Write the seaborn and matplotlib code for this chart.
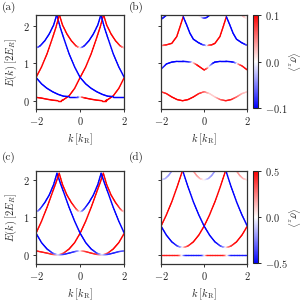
import numpy as np
import matplotlib
matplotlib.use("Agg")
import matplotlib.pyplot as plt
import seaborn as sns
from matplotlib.collections import LineCollection
from matplotlib.colors import Normalize
from matplotlib.cm import ScalarMappable

# every band is a list of (k, E, <sigma_z>) points

# ---- panel (a) ----
a_red_low = [(-2.0, 0.09, 0.1), (-1.75, 0.07, 0.1), (-1.5, 0.04, 0.1), (-1.25, 0.015, 0.1),
             (-1.0, 0.0, 0.1), (-0.85, 0.0, 0.1), (-0.75, 0.03, 0.1), (-0.5, 0.13, 0.1),
             (-0.25, 0.33, 0.1), (0.0, 0.62, 0.1), (0.25, 0.9, 0.1), (0.5, 1.25, 0.1),
             (0.75, 1.68, 0.1), (0.9, 1.95, 0.1), (1.06, 2.29, 0.1)]
a_red_low2 = [(0.0, 0.1, 0.0), (0.1, 0.09, 0.07), (0.25, 0.07, 0.1), (0.5, 0.04, 0.1),
              (0.75, 0.015, 0.1), (1.0, 0.0, 0.1), (1.15, 0.0, 0.1), (1.25, 0.03, 0.1),
              (1.5, 0.13, 0.1), (1.75, 0.33, 0.1), (2.0, 0.62, 0.1)]
a_blue_low = [(-2.0, 0.62, -0.1), (-1.75, 0.45, -0.1), (-1.5, 0.33, -0.1), (-1.25, 0.24, -0.1),
              (-1.0, 0.17, -0.1), (-0.75, 0.12, -0.1), (-0.5, 0.11, -0.1), (-0.25, 0.11, -0.1),
              (-0.1, 0.11, -0.07), (0.0, 0.1, 0.0)]
a_blue_fall = [(-1.06, 2.29, -0.1), (-0.9, 1.95, -0.1), (-0.75, 1.68, -0.1), (-0.5, 1.25, -0.1),
               (-0.25, 0.9, -0.1), (0.0, 0.62, -0.1), (0.25, 0.45, -0.1), (0.5, 0.33, -0.1),
               (0.75, 0.24, -0.1), (1.0, 0.17, -0.1), (1.25, 0.12, -0.1), (1.5, 0.11, -0.1),
               (1.75, 0.11, -0.1), (2.0, 0.11, -0.1)]
a_red_rise = [(-2.0, 0.62, 0.1), (-1.75, 0.9, 0.1), (-1.5, 1.25, 0.1), (-1.25, 1.68, 0.1),
              (-1.1, 1.95, 0.1), (-0.94, 2.29, 0.1)]
a_blue_edge = [(0.94, 2.29, -0.1), (1.1, 1.95, -0.1), (1.25, 1.68, -0.1), (1.5, 1.25, -0.1),
               (1.75, 0.9, -0.1), (2.0, 0.62, -0.1)]
a_u_mid = [(-0.94, 2.29, 0.1), (-0.8, 2.02, 0.1), (-0.6, 1.78, 0.1), (-0.4, 1.6, 0.1),
           (-0.2, 1.47, 0.09), (-0.1, 1.43, 0.06), (0.0, 1.41, 0.0), (0.1, 1.43, -0.06),
           (0.2, 1.47, -0.09), (0.4, 1.6, -0.1), (0.6, 1.78, -0.1), (0.8, 2.02, -0.1),
           (0.94, 2.29, -0.1)]
a_u_left = [(-2.0, 1.41, -0.02), (-1.9, 1.43, -0.06), (-1.8, 1.47, -0.09), (-1.6, 1.6, -0.1),
            (-1.4, 1.78, -0.1), (-1.2, 2.02, -0.1), (-1.06, 2.29, -0.1)]
a_u_right = [(1.06, 2.29, 0.1), (1.2, 2.02, 0.1), (1.4, 1.78, 0.1), (1.6, 1.6, 0.1),
             (1.8, 1.47, 0.09), (1.9, 1.43, 0.06), (2.0, 1.41, 0.02)]

# ---- panel (b) ----
b_band1 = [(-2.0, 0.24, 0.07), (-1.75, 0.19, 0.09), (-1.5, 0.1, 0.1), (-1.25, 0.03, 0.1),
           (-1.0, 0.0, 0.1), (-0.75, 0.03, 0.1), (-0.5, 0.1, 0.1), (-0.25, 0.19, 0.09),
           (0.0, 0.24, 0.06), (0.25, 0.19, 0.02), (0.5, 0.1, 0.02), (0.75, 0.03, 0.06),
           (1.0, 0.0, 0.09), (1.25, 0.03, 0.09), (1.5, 0.1, 0.06), (1.75, 0.19, 0.03),
           (2.0, 0.24, 0.02)]
b_band2 = [(-2.0, 0.84, -0.07), (-1.75, 0.98, -0.1), (-1.5, 1.03, -0.1), (-1.25, 1.05, -0.1),
           (-1.0, 1.05, -0.1), (-0.75, 1.04, -0.09), (-0.6, 1.03, -0.04), (-0.5, 1.01, 0.02),
           (-0.35, 0.96, 0.08), (-0.25, 0.92, 0.1), (0.0, 0.82, 0.1), (0.15, 0.87, 0.06),
           (0.25, 0.93, -0.02), (0.4, 1.0, -0.08), (0.5, 1.03, -0.1), (0.75, 1.05, -0.1),
           (1.0, 1.05, -0.1), (1.25, 1.04, -0.1), (1.4, 1.02, -0.08), (1.5, 1.0, -0.02),
           (1.6, 0.97, 0.05), (1.75, 0.93, 0.09), (2.0, 0.82, 0.1)]
b_band3_left = [(-2.0, 1.48, 0.02), (-1.9, 1.48, 0.06), (-1.75, 1.49, 0.09), (-1.5, 1.53, 0.1),
                (-1.27, 1.71, 0.1), (-1.12, 1.97, 0.1), (-0.97, 2.24, 0.1)]
b_band3_mid = [(-0.97, 2.24, -0.1), (-0.81, 2.02, -0.1), (-0.66, 1.8, -0.1), (-0.5, 1.64, -0.1),
               (-0.27, 1.55, -0.1), (-0.1, 1.5, -0.09), (0.04, 1.48, -0.05), (0.11, 1.48, 0.0),
               (0.2, 1.48, 0.06), (0.35, 1.49, 0.09), (0.5, 1.53, 0.1), (0.73, 1.71, 0.1),
               (0.88, 1.97, 0.1), (1.03, 2.24, 0.1)]
b_band3_right = [(1.03, 2.24, -0.1), (1.19, 2.02, -0.1), (1.34, 1.8, -0.1), (1.5, 1.64, -0.1),
                 (1.73, 1.55, -0.1), (1.9, 1.5, -0.09), (2.0, 1.48, -0.06)]
b_top_left = [(-2.0, 2.17, -0.08), (-1.9, 2.21, -0.09), (-1.75, 2.28, -0.1), (-1.6, 2.4, -0.1)]
b_top_mid = [(-0.4, 2.4, 0.05), (-0.25, 2.28, 0.03), (-0.12, 2.22, -0.02), (0.0, 2.2, -0.07),
             (0.12, 2.22, -0.09), (0.25, 2.28, -0.1), (0.4, 2.4, -0.1)]
b_top_right = [(1.6, 2.4, 0.05), (1.75, 2.28, 0.04), (1.88, 2.22, 0.02), (2.0, 2.2, 0.0)]

# ---- panel (c) ----
c_red_low = [(-2.0, 0.11, 0.45), (-1.75, 0.08, 0.45), (-1.5, 0.05, 0.45), (-1.25, 0.015, 0.4),
             (-1.0, 0.0, 0.05), (-0.75, 0.05, 0.4), (-0.5, 0.16, 0.5), (-0.25, 0.33, 0.5),
             (0.0, 0.58, 0.5), (0.25, 0.9, 0.5), (0.5, 1.27, 0.5), (0.75, 1.68, 0.5),
             (0.9, 1.92, 0.5), (1.05, 2.18, 0.5)]
c_blue_low = [(-2.0, 0.58, -0.5), (-1.75, 0.33, -0.5), (-1.5, 0.16, -0.5), (-1.25, 0.05, -0.4),
              (-1.0, 0.0, -0.05), (-0.75, 0.015, -0.4), (-0.5, 0.05, -0.45), (-0.25, 0.09, -0.4),
              (-0.1, 0.105, -0.2), (0.0, 0.11, 0.0), (0.1, 0.105, 0.2), (0.25, 0.09, 0.4),
              (0.5, 0.05, 0.45), (0.75, 0.015, 0.4), (1.0, 0.0, 0.05), (1.25, 0.05, 0.4),
              (1.5, 0.16, 0.5), (1.75, 0.33, 0.5), (2.0, 0.58, 0.5)]
c_blue_fall = [(-1.05, 2.18, -0.5), (-0.9, 1.92, -0.5), (-0.75, 1.68, -0.5), (-0.5, 1.27, -0.5),
               (-0.25, 0.9, -0.5), (0.0, 0.58, -0.5), (0.25, 0.33, -0.5), (0.5, 0.16, -0.5),
               (0.75, 0.05, -0.4), (1.0, 0.0, -0.05), (1.25, 0.015, -0.4), (1.5, 0.05, -0.45),
               (1.75, 0.09, -0.4), (2.0, 0.11, -0.3)]
c_red_rise = [(-2.0, 0.58, 0.5), (-1.75, 0.9, 0.5), (-1.5, 1.27, 0.5), (-1.25, 1.68, 0.5),
              (-1.1, 1.92, 0.5), (-0.95, 2.18, 0.5)]
c_blue_edge = [(0.95, 2.18, -0.5), (1.1, 1.92, -0.5), (1.25, 1.68, -0.5), (1.5, 1.27, -0.5),
               (1.75, 0.9, -0.5), (2.0, 0.58, -0.5)]
c_u_mid = [(-0.95, 2.18, 0.5), (-0.8, 1.88, 0.5), (-0.6, 1.6, 0.5), (-0.4, 1.4, 0.5),
           (-0.2, 1.24, 0.4), (-0.1, 1.18, 0.25), (0.0, 1.15, 0.0), (0.1, 1.18, -0.25),
           (0.2, 1.24, -0.4), (0.4, 1.4, -0.5), (0.6, 1.6, -0.5), (0.8, 1.88, -0.5),
           (0.95, 2.18, -0.5)]
c_u_left = [(-2.0, 1.15, -0.05), (-1.9, 1.18, -0.25), (-1.8, 1.24, -0.4), (-1.6, 1.4, -0.5),
            (-1.4, 1.6, -0.5), (-1.2, 1.88, -0.5), (-1.05, 2.18, -0.5)]
c_u_right = [(1.05, 2.18, 0.5), (1.2, 1.88, 0.5), (1.4, 1.6, 0.5), (1.6, 1.4, 0.5),
             (1.8, 1.24, 0.4), (1.9, 1.18, 0.25), (2.0, 1.15, 0.05)]

# ---- panel (d) ----
d_flat = [(-2.0, 0.01, 0.45), (-1.25, 0.01, 0.45), (-1.15, 0.01, 0.3), (-1.05, 0.01, 0.0),
          (-0.95, 0.01, -0.3), (-0.85, 0.01, -0.45), (-0.15, 0.01, -0.45), (-0.08, 0.01, -0.3),
          (0.0, 0.01, 0.0), (0.08, 0.01, 0.3), (0.15, 0.01, 0.45), (0.85, 0.01, 0.45),
          (0.95, 0.01, 0.3), (1.05, 0.01, 0.0), (1.15, 0.01, -0.3), (1.25, 0.01, -0.45),
          (2.0, 0.01, -0.45)]
d_band_a = [(-2.0, 0.77, -0.5), (-1.75, 0.53, -0.5), (-1.5, 0.35, -0.5), (-1.25, 0.24, -0.4),
            (-1.1, 0.21, -0.2), (-1.0, 0.2, 0.0), (-0.9, 0.21, 0.2), (-0.75, 0.24, 0.4),
            (-0.5, 0.35, 0.5), (-0.25, 0.53, 0.5), (0.0, 0.77, 0.5), (0.25, 1.07, 0.5),
            (0.5, 1.42, 0.5), (0.75, 1.82, 0.5), (1.0, 2.26, 0.5), (1.1, 2.45, 0.5)]
d_band_b = [(-1.1, 2.45, -0.5), (-1.0, 2.26, -0.5), (-0.75, 1.82, -0.5), (-0.5, 1.42, -0.5),
            (-0.25, 1.07, -0.5), (0.0, 0.77, -0.5), (0.25, 0.53, -0.5), (0.5, 0.35, -0.5),
            (0.75, 0.24, -0.4), (0.9, 0.21, -0.2), (1.0, 0.2, 0.0), (1.1, 0.21, 0.2),
            (1.25, 0.24, 0.4), (1.5, 0.35, 0.5), (1.75, 0.53, 0.5), (2.0, 0.77, 0.5)]
d_red_left = [(-2.0, 0.77, 0.5), (-1.75, 1.07, 0.5), (-1.5, 1.42, 0.5), (-1.25, 1.82, 0.5),
              (-1.0, 2.26, 0.5), (-0.9, 2.45, 0.5)]
d_blue_right = [(0.9, 2.45, -0.5), (1.0, 2.26, -0.5), (1.25, 1.82, -0.5), (1.5, 1.42, -0.5),
                (1.75, 1.07, -0.5), (2.0, 0.77, -0.5)]
d_top_left = [(-2.0, 2.0, -0.05), (-1.8, 2.04, -0.15), (-1.65, 2.12, -0.2), (-1.5, 2.24, -0.2),
              (-1.4, 2.35, -0.2)]
d_top_mid = [(-0.6, 2.35, 0.2), (-0.5, 2.24, 0.2), (-0.35, 2.12, 0.2), (-0.2, 2.04, 0.15),
             (0.0, 2.0, 0.0), (0.2, 2.04, -0.15), (0.35, 2.12, -0.2), (0.5, 2.24, -0.2),
             (0.6, 2.35, -0.2)]
d_top_right = [(1.4, 2.35, 0.2), (1.5, 2.24, 0.2), (1.65, 2.12, 0.2), (1.8, 2.04, 0.15),
               (2.0, 2.0, 0.05)]

panels = {
    "a": [a_red_low, a_red_low2, a_blue_low, a_blue_fall, a_red_rise, a_blue_edge,
          a_u_mid, a_u_left, a_u_right],
    "b": [b_band1, b_band2, b_band3_left, b_band3_mid, b_band3_right,
          b_top_left, b_top_mid, b_top_right],
    "c": [c_red_low, c_blue_low, c_blue_fall, c_red_rise, c_blue_edge,
          c_u_mid, c_u_left, c_u_right],
    "d": [d_flat, d_band_a, d_band_b, d_red_left, d_blue_right,
          d_top_left, d_top_mid, d_top_right],
}
spin_range = {"a": 0.1, "b": 0.1, "c": 0.5, "d": 0.5}
k_ticks = [-2, 0, 2]
E_ticks = [0, 1, 2]

sns.set_theme(style="ticks", rc={"xtick.direction": "out", "ytick.direction": "out",
                                 "xtick.major.size": 2.5, "ytick.major.size": 2.5,
                                 "xtick.major.width": 0.7, "ytick.major.width": 0.7})
plt.rcParams["font.family"] = ["serif"]
plt.rcParams["font.serif"] = ["cmr10", "DejaVu Serif"]
plt.rcParams["mathtext.fontset"] = "cm"
plt.rcParams["font.size"] = 8

LABEL_SIZE = 7


def draw_bands(ax, bands, vmax):
    norm = Normalize(-vmax, vmax)
    t = np.linspace(0, 1, 7)
    for band in bands:
        pts = np.array(band, dtype=float)
        segs, vals = [], []
        # split each piece so the colour runs smoothly along the line
        for p, q in zip(pts[:-1], pts[1:]):
            for t0, t1 in zip(t[:-1], t[1:]):
                a = p + (q - p) * t0
                b = p + (q - p) * t1
                segs.append([a[:2], b[:2]])
                vals.append(0.5 * (a[2] + b[2]))
        lc = LineCollection(segs, cmap="bwr", norm=norm, linewidths=1.0,
                            capstyle="round")
        lc.set_array(np.array(vals))
        ax.add_collection(lc)


fig = plt.figure(figsize=(3.04, 3.04), dpi=100)
rects = {"a": [0.1184, 0.6424, 0.2905, 0.3082], "b": [0.5296, 0.6424, 0.2839, 0.3082],
         "c": [0.1184, 0.1326, 0.2905, 0.3049], "d": [0.5296, 0.1326, 0.2839, 0.3049]}
ylims = {"a": (-0.213, 2.285), "b": (-0.213, 2.285), "c": (-0.232, 2.24), "d": (-0.232, 2.24)}

for name, rect in rects.items():
    ax = fig.add_axes(rect)
    draw_bands(ax, panels[name], spin_range[name])
    ax.set_xlim(-2, 2)
    ax.set_ylim(*ylims[name])
    ax.set_xticks(k_ticks)
    ax.set_xticklabels([f"${v}$" for v in k_ticks])
    ax.set_yticks(E_ticks)
    if name in ("a", "c"):
        ax.set_yticklabels([f"${v}$" for v in E_ticks])
        ax.set_ylabel(r"$E(k)\;[2E_R]$", labelpad=3, fontsize=LABEL_SIZE + 0.5)
    else:
        ax.set_yticklabels([])
    ax.set_xlabel(r"$k\;[k_{\rm R}]$", labelpad=3, fontsize=LABEL_SIZE + 0.5)
    ax.tick_params(labelsize=LABEL_SIZE + 0.5, pad=2, color="#333333")
    for sp in ax.spines.values():
        sp.set_color("#333333")
        sp.set_linewidth(0.9)
    ax.set_facecolor("white")

for name, rect in (("b", [0.8306, 0.6438, 0.0197, 0.307]), ("d", [0.8306, 0.1339, 0.0197, 0.3036])):
    vmax = spin_range[name]
    cax = fig.add_axes(rect)
    sm = ScalarMappable(norm=Normalize(-vmax, vmax), cmap="bwr")
    cb = fig.colorbar(sm, cax=cax)
    cb.set_ticks([-vmax, 0, vmax])
    cb.set_ticklabels([f"${-vmax:.1f}$", "$0.0$", f"${vmax:.1f}$"])
    cb.ax.tick_params(labelsize=LABEL_SIZE + 0.5, pad=2, length=2.5, width=0.7)
    cb.outline.set_linewidth(0.8)
    cb.set_label(r"$\langle\sigma_z\rangle$", rotation=270, labelpad=9,
                 fontsize=LABEL_SIZE + 0.5)

for lab, x, y in (("(a)", 0.005, 0.995), ("(b)", 0.423, 0.995),
                  ("(c)", 0.005, 0.5), ("(d)", 0.423, 0.5)):
    fig.text(x, y, lab, ha="left", va="top", fontsize=8)

fig.savefig("out.png", dpi=100, facecolor="white")
